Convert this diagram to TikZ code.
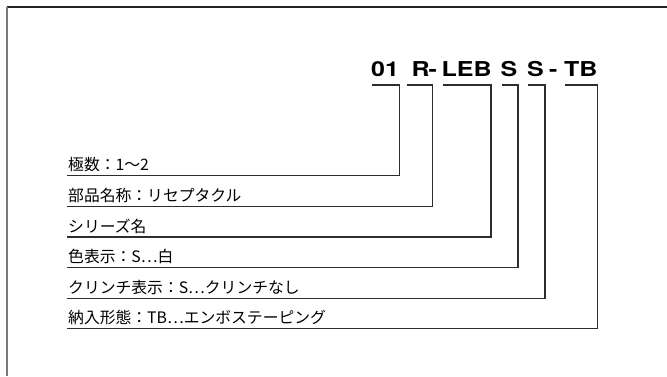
\documentclass[tikz,border=0pt]{standalone}
\usepackage{fontspec}
\newfontfamily\jpfont{Noto Sans CJK JP}
\newfontfamily\codefont[FakeStretch=1.22]{TeX Gyre Heros}
\definecolor{leadercol}{RGB}{45,45,45}
\definecolor{topcol}{RGB}{35,35,35}
\definecolor{leftcol}{RGB}{120,120,120}
\begin{document}
\begin{tikzpicture}[x=1pt,y=-1pt,
  codetxt/.style={anchor=base west,inner sep=0pt,font=\codefont\bfseries\fontsize{20.5}{24}\selectfont,text=black},
  labeltxt/.style={anchor=base west,inner sep=0pt,font=\jpfont\fontsize{15.8}{18}\selectfont,text=black},
  leader/.style={draw=leadercol,line width=1.2pt},
  frametop/.style={draw=topcol,line width=1.4pt},
  frameleft/.style={draw=leftcol,line width=1.8pt}]
\useasboundingbox (0,0) rectangle (667,376);
\fill[white] (0,0) rectangle (667,376);
% frame (only top and left edges fall inside the picture)
\coordinate (ftl) at (7,7);
\coordinate (ftr) at (667,7);
\coordinate (fbl) at (7,376);
\draw[frametop] (ftl) -- (ftr);
\draw[frameleft] (ftl) -- (fbl);
% code text
\node[codetxt] (c01) at (371,76.5) {01};
\node[codetxt] (cR) at (411.5,76.5) {R};
\node[codetxt] (ch1) at (428.5,76.5) {-};
\node[codetxt] (cLEB) at (441.5,76.5) {LEB};
\node[codetxt] (cS1) at (500.5,76.5) {S};
\node[codetxt] (cS2) at (527,76.5) {S};
\node[codetxt] (ch2) at (549,76.5) {-};
\node[codetxt] (cTB) at (564,76.5) {TB};
% bracket corners
\coordinate (b1l) at (372,85);   \coordinate (b1r) at (399.5,85);
\coordinate (b2l) at (407,85);   \coordinate (b2r) at (432.5,85);
\coordinate (b3l) at (443,85);   \coordinate (b3r) at (491,85);
\coordinate (b4l) at (501.5,85); \coordinate (b4r) at (518,85);
\coordinate (b5l) at (528,85);   \coordinate (b5r) at (545,85);
\coordinate (b6l) at (565,85);   \coordinate (b6r) at (597.5,85);
% label lines (left ends)
\coordinate (l1) at (67,175.7);
\coordinate (l2) at (67,206.3);
\coordinate (l3) at (67,237);
\coordinate (l4) at (67,267.3);
\coordinate (l5) at (67,298.3);
\coordinate (l6) at (67,328.7);
% labels
\node[labeltxt] (t1) at (68,170.9) {極数：1〜2};
\node[labeltxt] (t2) at (68,201.5) {部品名称：リセプタクル};
\node[labeltxt] (t3) at (68,232.2) {シリーズ名};
\node[labeltxt] (t4) at (68,262.5) {色表示：S…白};
\node[labeltxt] (t5) at (68,293.5) {クリンチ表示：S…クリンチなし};
\node[labeltxt] (t6) at (68,323.9) {納入形態：TB…エンボステーピング};
% connectors
\draw[leader] (b1l) -- (b1r) |- (l1);
\draw[leader] (b2l) -- (b2r) |- (l2);
\draw[leader] (b3l) -- (b3r) |- (l3);
\draw[leader] (b4l) -- (b4r) |- (l4);
\draw[leader] (b5l) -- (b5r) |- (l5);
\draw[leader] (b6l) -- (b6r) |- (l6);
\end{tikzpicture}
\end{document}
